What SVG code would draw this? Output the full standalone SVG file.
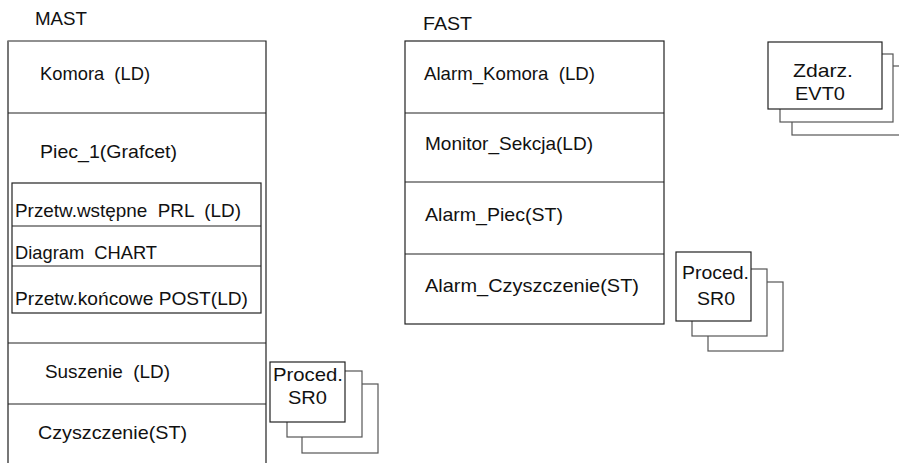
<svg xmlns="http://www.w3.org/2000/svg" width="899" height="463" viewBox="0 0 899 463">
<style>
text{font-family:"Liberation Sans",Arial,sans-serif;font-size:19px;fill:#111;white-space:pre}
.b{fill:#fff;stroke:#222;stroke-width:1.2}
.k{fill:#fff;stroke:#555;stroke-width:1.2}
.l{fill:none;stroke:#222;stroke-width:1.2}
</style>
<rect width="899" height="463" fill="#fff"/>
<g id="mast">
<text x="35" y="25" textLength="52" lengthAdjust="spacingAndGlyphs">MAST</text>
<path class="l" d="M8 463V41H266V463"/>
<path d="M8 41V463" stroke="#777" stroke-width="2"/>
<path class="l" d="M8 113H266M8 343H266M8 404H266"/>
<text x="40" y="80" textLength="110" lengthAdjust="spacingAndGlyphs" xml:space="preserve">Komora  (LD)</text>
<text x="40" y="158" textLength="137" lengthAdjust="spacingAndGlyphs">Piec_1(Grafcet)</text>
<text x="45" y="378" textLength="125" lengthAdjust="spacingAndGlyphs" xml:space="preserve">Suszenie  (LD)</text>
<text x="38" y="439" textLength="149" lengthAdjust="spacingAndGlyphs">Czyszczenie(ST)</text>
</g>
<g id="piec-inner">
<rect class="b" x="12" y="183" width="249" height="130"/>
<path class="l" d="M12 226H261M12 266H261"/>
<text x="15" y="217" textLength="226" lengthAdjust="spacingAndGlyphs" xml:space="preserve">Przetw.wstępne  PRL  (LD)</text>
<text x="15" y="259" textLength="142" lengthAdjust="spacingAndGlyphs" xml:space="preserve">Diagram  CHART</text>
<text x="15" y="305" textLength="233" lengthAdjust="spacingAndGlyphs">Przetw.końcowe POST(LD)</text>
</g>
<g id="fast">
<text x="423" y="30" textLength="49" lengthAdjust="spacingAndGlyphs">FAST</text>
<rect class="b" x="405" y="41" width="259" height="283"/>
<path class="l" d="M405 113H664M405 182H664M405 254H664"/>
<text x="424" y="80" textLength="171" lengthAdjust="spacingAndGlyphs" xml:space="preserve">Alarm_Komora  (LD)</text>
<text x="425" y="150" textLength="168" lengthAdjust="spacingAndGlyphs">Monitor_Sekcja(LD)</text>
<text x="425" y="221" textLength="138" lengthAdjust="spacingAndGlyphs">Alarm_Piec(ST)</text>
<text x="425" y="292" textLength="214" lengthAdjust="spacingAndGlyphs">Alarm_Czyszczenie(ST)</text>
</g>
<g id="proced-mast">
<rect class="k" x="302" y="384" width="76" height="69"/>
<rect class="k" x="287" y="371" width="75" height="66"/>
<rect class="b" x="270" y="362" width="75" height="60"/>
<text x="273" y="381" textLength="70" lengthAdjust="spacingAndGlyphs">Proced.</text>
<text x="288" y="404" textLength="39" lengthAdjust="spacingAndGlyphs">SR0</text>
</g>
<g id="proced-fast">
<rect class="k" x="708" y="282" width="75" height="69"/>
<rect class="k" x="692" y="269" width="75" height="67"/>
<rect class="b" x="676" y="252" width="75" height="69"/>
<text x="682" y="279" textLength="67" lengthAdjust="spacingAndGlyphs">Proced.</text>
<text x="697" y="305" textLength="38" lengthAdjust="spacingAndGlyphs">SR0</text>
</g>
<g id="zdarz-evt0">
<rect class="k" x="792" y="66" width="120" height="69"/>
<rect class="k" x="780" y="54" width="113" height="68"/>
<rect class="b" x="768" y="42" width="114" height="67"/>
<text x="793" y="77" textLength="60" lengthAdjust="spacingAndGlyphs">Zdarz.</text>
<text x="795" y="100" textLength="50" lengthAdjust="spacingAndGlyphs">EVT0</text>
</g>
</svg>
